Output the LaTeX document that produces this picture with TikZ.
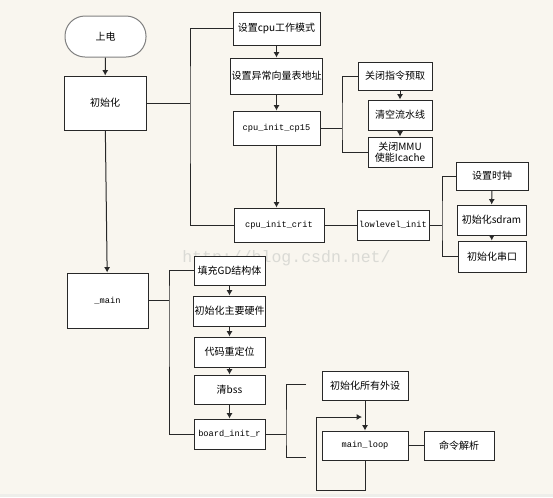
\documentclass[tikz,border=0pt]{standalone}
\usepackage{fontspec}
\newfontfamily\cjk{Noto Sans CJK SC}
\newfontfamily\mono{Liberation Mono}
\usetikzlibrary{arrows.meta}
\definecolor{bg}{RGB}{249,246,239}
\definecolor{ln}{RGB}{40,40,40}
\definecolor{wm}{RGB}{218,218,213}
\definecolor{band}{RGB}{238,238,234}
\tikzset{
  box/.style={draw=ln, fill=white, line width=0.75pt, inner sep=1pt, align=center,
    font=\cjk\fontsize{7.5pt}{8.5pt}\selectfont},
  code/.style={box, font=\mono\fontsize{6.5pt}{8pt}\selectfont},
  sz/.style n args={2}{minimum width=#1*0.75pt, minimum height=#2*0.75pt},
  conn/.style={draw=ln, line width=0.75pt},
  arr/.style={conn, -{Latex[length=4pt,width=4.5pt]}},
}
\begin{document}
\begin{tikzpicture}[x=0.75pt,y=-0.75pt]
\path[fill=bg] (0,0) rectangle (553,497);
\useasboundingbox (0,0) rectangle (553,497);
\fill[band] (0,494) rectangle (553,497);
% watermark
\node[anchor=base west, inner sep=0, text=wm, font=\mono\fontsize{12.4pt}{14pt}\selectfont] (wmk) at (182,262) {http://blog.csdn.net/};

% nodes
\node[box, sz={81}{41}, rounded corners=15pt, draw=gray] (pw) at (105.5,36.5) {上电};
\node[box, sz={82}{54}] (init) at (105,103) {初始化};
\node[box, sz={87}{33}] (mode) at (276.5,28.5) {设置cpu工作模式};
\node[box, sz={87}{36}] (vec) at (276.5,76) {设置异常向量表地址};
\node[code, sz={87}{34}] (cp15) at (276.5,128) {cpu\_init\_cp15};
\node[code, sz={90}{34}] (crit) at (279,225) {cpu\_init\_crit};
\node[box, sz={74}{28}] (fetch) at (395,76) {关闭指令预取};
\node[box, sz={64}{30}] (flush) at (400,115) {清空流水线};
\node[box, sz={64}{30}, font=\cjk\fontsize{7.5pt}{8pt}\selectfont] (mmu) at (400,152) {关闭MMU\\使能Icache};
\node[code, sz={72}{30}] (low) at (393,225) {lowlevel\_init};
\node[box, sz={72}{28}] (clk) at (492,176) {设置时钟};
\node[box, sz={69}{30}] (sdram) at (491.5,220) {初始化sdram};
\node[box, sz={68}{31}] (uart) at (492,256.5) {初始化串口};
\node[code, sz={81}{55}] (main) at (107.5,300.5) {\_main};
\node[box, sz={71}{29}] (gd) at (229.5,270.5) {填充GD结构体};
\node[box, sz={71}{30}] (hw) at (229.5,311) {初始化主要硬件};
\node[box, sz={71}{30}] (reloc) at (229.5,352) {代码重定位};
\node[box, sz={71}{29}] (bss) at (229.5,389.5) {清bss};
\node[code, sz={71}{30}] (board) at (229.5,434) {board\_init\_r};
\node[box, sz={86}{29}] (per) at (365,385.5) {初始化所有外设};
\node[code, sz={86}{29}] (loop) at (365,445.5) {main\_loop};
\node[box, sz={70}{29}] (cmd) at (459,445.5) {命令解析};

% branch points
\coordinate (b1) at (190,103);
\coordinate (b2) at (342,128);
\coordinate (b3) at (442,225);
\coordinate (b4) at (169,300.5);
\coordinate (b5) at (286,434);
\coordinate (t1) at (306,384);
\coordinate (t2) at (306,457);
\coordinate (l1) at (316,490);
\coordinate (l2) at (362,417);

% connectors
\draw[arr] (pw) -- (init);
\draw[arr] (init) -- (main);
\draw[conn] (init.east) -- (b1);
\draw[conn] (mode.west) -| (b1) |- (crit.west);
\draw[arr] (mode) -- (vec);
\draw[arr] (vec) -- (cp15);
\draw[arr] (cp15.south) -- (cp15.south |- crit.north);
\draw[conn] (cp15.east) -- (b2);
\draw[conn] (fetch.west) -| (b2) |- (mmu.west);
\draw[arr] (fetch.south -| flush.north) -- (flush.north);
\draw[arr] (flush) -- (mmu);
\draw[conn] (crit) -- (low);
\draw[conn] (low.east) -- (b3);
\draw[conn] (clk.west) -| (b3) |- (uart.west);
\draw[arr] (clk) -- (sdram);
\draw[arr] (sdram) -- (uart);
\draw[conn] (main.east) -- (b4);
\draw[conn] (gd.west) -| (b4) |- (board.west);
\draw[arr] (gd) -- (hw);
\draw[arr] (hw) -- (reloc);
\draw[arr] (reloc) -- (bss);
\draw[arr] (bss) -- (board);
\draw[conn] (board.east) -- (b5);
\draw[conn] (t1) -| (b5) |- (t2);
\draw[arr] (per) -- (loop);
\draw[conn] (loop) -- (cmd);
\draw[arr] (loop.south) |- (l1) |- (l2);
\end{tikzpicture}
\end{document}
